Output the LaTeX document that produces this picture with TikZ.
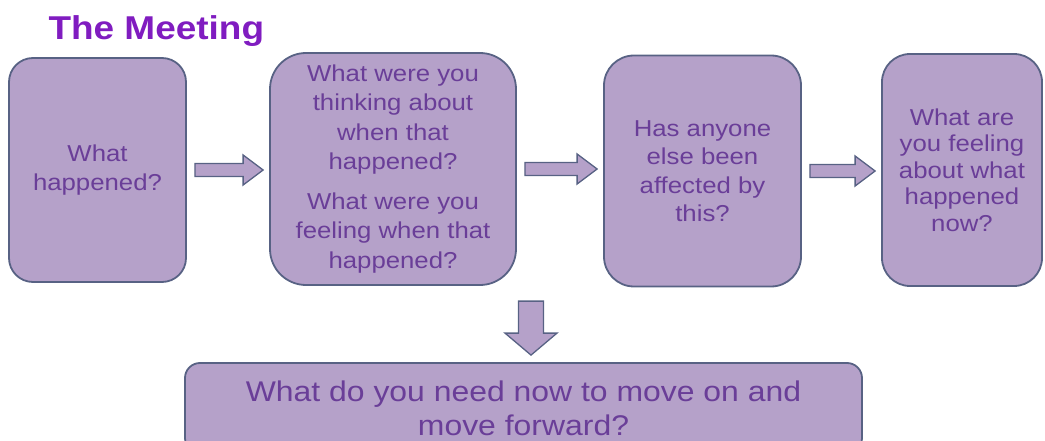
\documentclass[tikz,border=0pt]{standalone}
\usepackage{fontspec}
\setmainfont{Liberation Sans}[FakeStretch=1.12]
\usetikzlibrary{calc}

\definecolor{cardfill}{RGB}{181,161,201}
\definecolor{cardline}{RGB}{88,98,132}
\definecolor{cardtext}{RGB}{106,62,152}
\definecolor{titlepurple}{RGB}{128,28,192}

\tikzset{
  stepcard/.style={draw=cardline, line width=1.8pt, fill=cardfill, text=cardtext,
    align=center, inner sep=0pt, font=\fontsize{23}{28.5}\selectfont},
  flowarrow/.style={draw=cardline, line width=1.3pt, fill=cardfill, line join=miter}
}

% block arrow between two cards, left to right
\newcommand{\sidearrow}[2]{%
  \filldraw[flowarrow] let \p1=(#1.east), \p2=(#2.west) in
    (\x1+8pt,\y1+6.5pt) -- (\x2-26pt,\y1+6.5pt) -- (\x2-26pt,\y1+15pt)
    -- (\x2-6pt,\y1) -- (\x2-26pt,\y1-15pt) -- (\x2-26pt,\y1-6.5pt)
    -- (\x1+8pt,\y1-6.5pt) -- cycle;}

\begin{document}
\begin{tikzpicture}[x=1pt, y=-1pt, line cap=round, line join=round]
    \useasboundingbox (0,0) rectangle (1045,441);

    % --- title ---
    \node[anchor=base west, text=titlepurple, font=\fontsize{33}{36}\selectfont\bfseries]
        (title) at (45,40) {The Meeting};

    % --- row of cards ---
    \node[stepcard, minimum width=177pt, minimum height=224pt, rounded corners=24pt]
        (happened) at (97.5,170) {What\\happened?};
    \node[stepcard, minimum width=246pt, minimum height=232pt, rounded corners=36pt,
        font=\fontsize{23}{29.5}\selectfont]
        (thinking) at (393,169) {What were you\\thinking about\\when that\\happened?\\[10pt]
        What were you\\feeling when that\\happened?};
    \node[stepcard, minimum width=197pt, minimum height=231pt, rounded corners=30pt]
        (affected) at (702.5,171) {Has anyone\\else been\\affected by\\this?};
    \node[stepcard, minimum width=160pt, minimum height=232pt, rounded corners=28pt,
        font=\fontsize{23}{26.5}\selectfont]
        (feelnow) at (962,170) {What are\\you feeling\\about what\\happened\\now?};

    % --- bottom card ---
    \node[stepcard, minimum width=677pt, minimum height=90pt, rounded corners=15pt,
        font=\fontsize{28.5}{34}\selectfont]
        (moveon) at (523.5,408) {What do you need now to move on and\\move forward?};

    % --- arrows ---
    \sidearrow{happened}{thinking}
    \sidearrow{thinking}{affected}
    \sidearrow{affected}{feelnow}
    \filldraw[flowarrow] let \p1=($(moveon.north)+(7.5,0)$) in
        (\x1-12.5pt,\y1+61pt) -- (\x1+12.5pt,\y1+61pt) -- (\x1+12.5pt,\y1+29pt)
        -- (\x1+26pt,\y1+29pt) -- (\x1,\y1+7pt) -- (\x1-26pt,\y1+29pt)
        -- (\x1-12.5pt,\y1+29pt) -- cycle;
\end{tikzpicture}
\end{document}
